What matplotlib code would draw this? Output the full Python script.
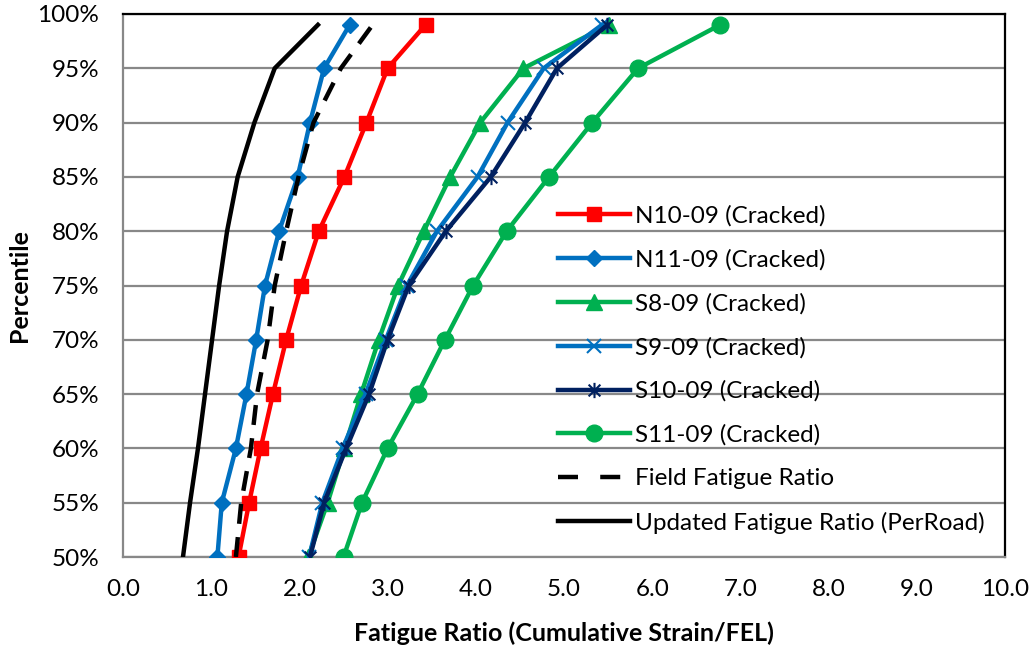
import matplotlib
matplotlib.use("Agg")
import matplotlib.pyplot as plt
from matplotlib.path import Path

plt.rcParams['font.family'] = ['Lato', 'DejaVu Sans']

percentiles = [50, 55, 60, 65, 70, 75, 80, 85, 90, 95, 99]

n10_09 = [1.31, 1.43, 1.56, 1.70, 1.85, 2.02, 2.22, 2.51, 2.76, 3.00, 3.43]
n11_09 = [1.07, 1.12, 1.28, 1.40, 1.51, 1.61, 1.77, 1.98, 2.12, 2.28, 2.57]
s8_09 = [2.10, 2.32, 2.51, 2.70, 2.90, 3.12, 3.41, 3.71, 4.05, 4.54, 5.51]
s9_09 = [2.11, 2.26, 2.49, 2.75, 2.98, 3.22, 3.56, 4.02, 4.36, 4.77, 5.43]
s10_09 = [2.12, 2.28, 2.53, 2.79, 3.00, 3.24, 3.66, 4.17, 4.56, 4.92, 5.49]
s11_09 = [2.50, 2.71, 3.00, 3.34, 3.65, 3.97, 4.35, 4.83, 5.32, 5.84, 6.77]
field_ratio = [1.28, 1.34, 1.45, 1.52, 1.64, 1.72, 1.85, 1.99, 2.16, 2.47, 2.83]
updated_ratio = [0.68, 0.76, 0.85, 0.93, 1.01, 1.09, 1.18, 1.30, 1.49, 1.72, 2.21]

labels = ["N10-09 (Cracked)", "N11-09 (Cracked)", "S8-09 (Cracked)", "S9-09 (Cracked)",
          "S10-09 (Cracked)", "S11-09 (Cracked)", "Field Fatigue Ratio",
          "Updated Fatigue Ratio (PerRoad)"]

x_ticks = [0.0, 1.0, 2.0, 3.0, 4.0, 5.0, 6.0, 7.0, 8.0, 9.0, 10.0]
y_ticks = [50, 55, 60, 65, 70, 75, 80, 85, 90, 95, 100]

# asterisk marker (x plus vertical bar)
star_path = Path(
    [(-1, -1), (1, 1), (-1, 1), (1, -1), (0, -1.3), (0, 1.3)],
    [Path.MOVETO, Path.LINETO, Path.MOVETO, Path.LINETO, Path.MOVETO, Path.LINETO])

W, H = 1033, 649
fig = plt.figure(figsize=(W / 100, H / 100), dpi=100)
ax = fig.add_axes([123 / W, (H - 557) / H, (1005 - 123) / W, (557 - 14) / H])

lw = 3.2
ax.plot(n10_09, percentiles, color='#FF0000', lw=lw, marker='s', ms=9.5, label=labels[0], zorder=3)
ax.plot(n11_09, percentiles, color='#0070C0', lw=lw, marker='D', ms=8.5, label=labels[1], zorder=3)
ax.plot(s8_09, percentiles, color='#00B050', lw=lw, marker='^', ms=11, label=labels[2], zorder=3)
ax.plot(s9_09, percentiles, color='#0070C0', lw=lw, marker='x', ms=10, mew=1.5, label=labels[3], zorder=3)
ax.plot(s10_09, percentiles, color='#002060', lw=lw, marker=star_path, ms=11, mew=1.5,
        mfc='none', label=labels[4], zorder=3)
ax.plot(s11_09, percentiles, color='#00B050', lw=lw, marker='o', ms=12, label=labels[5], zorder=3)
ax.plot(field_ratio, percentiles, color='black', lw=lw, ls=(0, (4.5, 3)), label=labels[6], zorder=3)
ax.plot(updated_ratio, percentiles, color='black', lw=lw, label=labels[7], zorder=3)

ax.set_xlim(0, 10)
ax.set_ylim(50, 100)
ax.set_xticks(x_ticks)
ax.set_xticklabels([f"{v:.1f}" for v in x_ticks])
ax.set_yticks(y_ticks)
ax.set_yticklabels([f"{v}%" for v in y_ticks])
ax.tick_params(length=0, labelsize=17.5, colors='black')
ax.tick_params(axis='x', pad=16)
ax.tick_params(axis='y', pad=17)
ax.yaxis.grid(True, color='#888888', lw=1.6, zorder=0)
ax.set_axisbelow(True)

for side in ['left', 'bottom']:
    ax.spines[side].set_color('#888888')
    ax.spines[side].set_linewidth(1.6)
for side in ['top', 'right']:
    ax.spines[side].set_color('black')
    ax.spines[side].set_linewidth(1.6)

ax.set_xlabel("Fatigue Ratio (Cumulative Strain/FEL)", fontsize=18, fontweight='bold', labelpad=15)
ax.set_ylabel("Percentile", fontsize=18, fontweight='bold', labelpad=5)

leg = ax.legend(loc='upper left', bbox_to_anchor=(558 / W, (H - 205) / H),
                bbox_transform=fig.transFigure, frameon=False, fontsize=17.5,
                handlelength=2.95, handletextpad=0.22, labelspacing=0.92, numpoints=1,
                borderaxespad=0, borderpad=0)
# legend dashed handle: two clear dashes
leg.get_lines()[6].set_dashes((4.5, 5))

fig.savefig("out.png", dpi=100)
